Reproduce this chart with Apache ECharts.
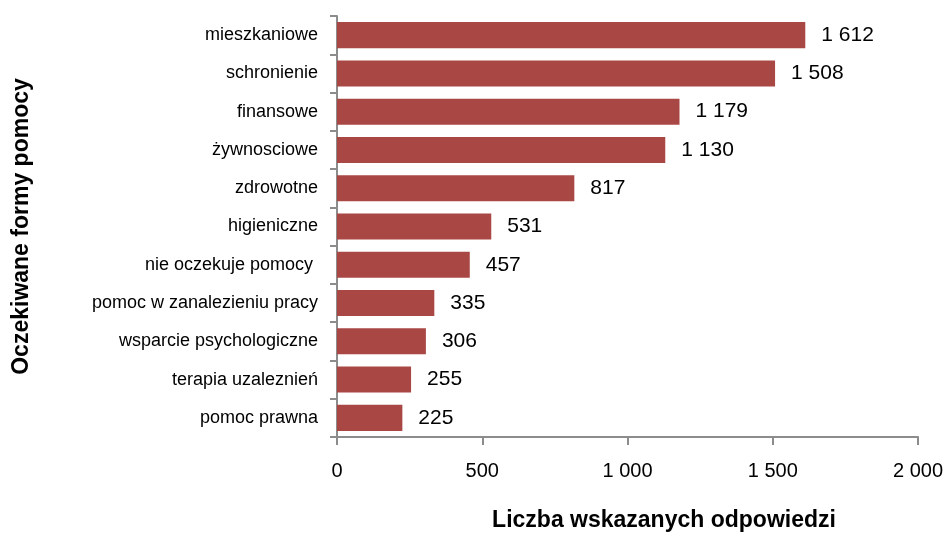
<!DOCTYPE html>
<html>
<head>
<meta charset="utf-8">
<script src="https://cdn.jsdelivr.net/npm/echarts@6/dist/echarts.min.js"></script>
<style>
  html, body { margin: 0; padding: 0; background: #fff; }
  #chart { width: 947px; height: 536px; }
</style>
</head>
<body>
<div id="chart"></div>
<script>
// kategorie (od góry do dołu) i liczby wskazań
const categories = [
  "mieszkaniowe", "schronienie", "finansowe", "żywnosciowe", "zdrowotne",
  "higieniczne", "nie oczekuje pomocy ", "pomoc w zanalezieniu pracy",
  "wsparcie psychologiczne", "terapia uzaleznień", "pomoc prawna"
];
const values = [1612, 1508, 1179, 1130, 817, 531, 457, 335, 306, 255, 225];
const xTicks = [0, 500, 1000, 1500, 2000];
const xName = "Liczba wskazanych odpowiedzi";
const yName = "Oczekiwane formy pomocy";

const FONT = "'Liberation Sans Narrow', 'Liberation Sans', Arial, sans-serif";

// 1612 -> "1 612"
function fmt(v) {
  return String(v).replace(/\B(?=(\d{3})+(?!\d))/g, " ");
}

const chart = echarts.init(document.getElementById("chart"));
chart.setOption({
  animation: false,
  grid: { left: 337, right: 29, top: 16, bottom: 99 },
  // nazwa osi X jest przesunięta w prawo względem środka osi
  graphic: [{
    type: "text",
    x: 664, y: 521,
    style: {
      text: xName, fill: "#000",
      font: "bold 23px " + FONT,
      align: "center", verticalAlign: "middle"
    }
  }],
  xAxis: {
    type: "value",
    min: xTicks[0],
    max: xTicks[xTicks.length - 1],
    interval: 500,
    axisLine: { show: true, lineStyle: { color: "#8c8c8c", width: 2 } },
    axisTick: { show: true, length: 8, lineStyle: { color: "#8c8c8c", width: 2 } },
    axisLabel: { formatter: fmt, fontFamily: FONT, fontSize: 20, color: "#000", margin: 24 },
    splitLine: { show: false }
  },
  yAxis: {
    type: "category",
    data: categories,
    inverse: true,
    name: yName,
    nameLocation: "middle",
    nameGap: 304,
    nameRotate: 90,
    nameTextStyle: { fontFamily: FONT, fontSize: 23, fontWeight: "bold", color: "#000" },
    axisLine: { show: true, lineStyle: { color: "#8c8c8c", width: 2 } },
    axisTick: { show: true, length: 7, lineStyle: { color: "#8c8c8c", width: 2 } },
    axisLabel: { fontFamily: FONT, fontSize: 18, color: "#000", margin: 19 }
  },
  series: [{
    type: "bar",
    data: values,
    barCategoryGap: "32%",
    itemStyle: { color: "#a94744" },
    label: {
      show: true,
      position: "right",
      distance: 16,
      formatter: p => fmt(p.value),
      fontFamily: FONT,
      fontSize: 21,
      color: "#000"
    }
  }]
});
</script>
</body>
</html>
